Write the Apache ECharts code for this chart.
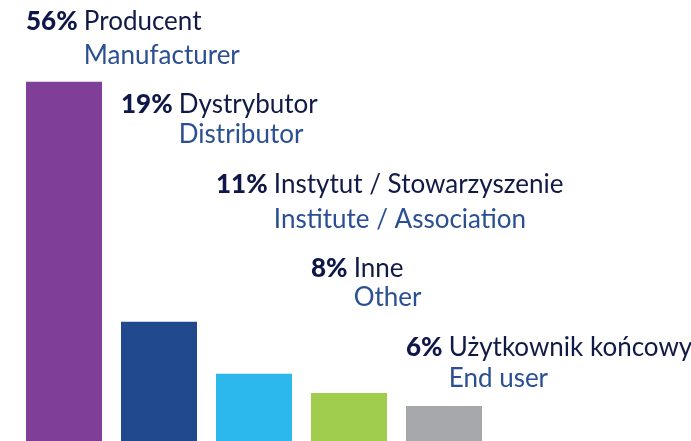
<!DOCTYPE html>
<html><head><meta charset="utf-8">
<script src="https://cdn.jsdelivr.net/npm/echarts@6/dist/echarts.min.js"></script>
<style>html,body{margin:0;padding:0;background:#fff;overflow:hidden;width:691px;height:441px}#c{width:691px;height:445px}</style>
</head><body><div id="c"></div>
<script>
// data
var categories = ['Producent', 'Dystrybutor', 'Instytut / Stowarzyszenie', 'Inne', 'Użytkownik końcowy'];
var englishNames = ['Manufacturer', 'Distributor', 'Institute / Association', 'Other', 'End user'];
var values = [56, 19, 11, 8, 6];
var barColors = ['#7f3f98', '#214a8e', '#2db8ec', '#a0cd4e', '#a7a8ab'];

// label layout (pixel baselines of the two text lines)
var line1Base = [29, 112, 192, 276, 355];
var line2Base = [63, 142, 227, 305, 386];

var chart = echarts.init(document.getElementById('c'), null, {renderer: 'canvas'});
var FONT = 'Lato';
var FS = 26, LH = 30;
chart.setOption({
  animation: false,
  grid: {left: 16.5, width: 475, top: 0, bottom: 0, containLabel: false},
  xAxis: {type: 'category', data: categories, show: false},
  yAxis: {type: 'value', min: 0, max: 68.6, show: false},
  series: [{
    type: 'bar',
    barCategoryGap: '20%',
    data: values.map(function (v, i) { return {value: v, itemStyle: {color: barColors[i]}}; })
  }]
});

var rich = {
  p: {fontFamily: FONT, fontWeight: 900, fontSize: FS, fill: '#0e1747', lineHeight: LH},
  pl: {fontFamily: FONT, fontSize: FS, fill: '#111a45', lineHeight: LH},
  h: {fontFamily: FONT, fontWeight: 900, fontSize: FS, fill: 'rgba(0,0,0,0)', lineHeight: LH},
  en: {fontFamily: FONT, fontSize: FS, fill: '#2a4f92', lineHeight: LH}
};
var bandHalf = 38;
var graphics = [];
for (var i = 0; i < values.length; i++) {
  var cx = chart.convertToPixel({xAxisIndex: 0}, i);
  var pct = values[i] + '% ';
  graphics.push({
    type: 'text', left: cx - bandHalf, top: line1Base[i] - 5 - LH / 2,
    style: {text: '{p|' + pct + '}{pl|' + categories[i] + '}', rich: rich}
  });
  graphics.push({
    type: 'text', left: cx - bandHalf, top: line2Base[i] - 5 - LH / 2,
    style: {text: '{h|' + pct + '}{en|' + englishNames[i] + '}', rich: rich}
  });
}
chart.setOption({graphic: graphics});
</script></body></html>
